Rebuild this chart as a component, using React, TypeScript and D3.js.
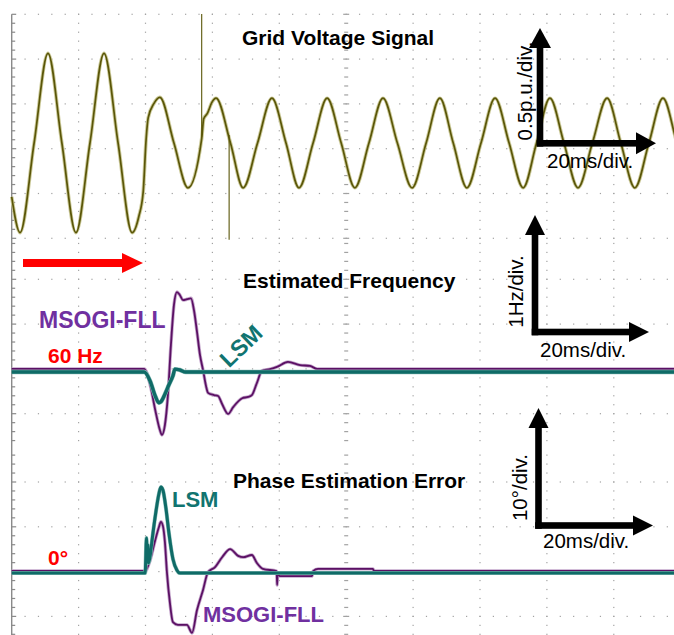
import React from 'react';
import * as d3 from 'd3';

const W = 674;
const H = 635;

// ---------- data (time in ms, 20 ms/div) ----------
const timeDomain: [number, number] = [0, 200];

// Grid voltage signal, p.u. (0.5 p.u./div)
const voltageSamples: [number, number][] = [
  [0, -0.6], [2.5, -1.0], [6.7, 0], [10.85, 1.0], [15.0, 0], [19.2, -1.0], [23.4, 0], [27.6, 1.0],
  [31.8, 0], [36.0, -1.0], [38.0, -0.82], [39.3, -0.55], [40.2, 0.05], [40.8, 0.28], [42.5, 0.44],
  [44.3, 0.51], [48.5, 0], [52.7, -0.5], [56.8, 0.05], [57.4, 0.27], [58.5, 0.33], [59.8, 0.45],
  [61.1, 0.5], [65.4, 0], [69.2, -0.5], [73.5, 0], [77.8, 0.5], [82.0, 0], [85.9, -0.5], [90.1, 0],
  [94.3, 0.5], [98.5, 0], [102.6, -0.5], [106.8, 0], [111.0, 0.5], [115.3, 0], [119.7, -0.5],
  [123.9, 0], [128.0, 0.5], [132.0, 0], [136.1, -0.5], [140.3, 0], [144.5, 0.5], [148.7, 0],
  [152.9, -0.5], [156.9, 0], [160.9, 0.5], [165.1, 0], [169.3, -0.5], [173.6, 0], [178.0, 0.5],
  [182.1, 0], [186.3, -0.5], [190.5, 0], [194.7, 0.5], [198.9, 0], [200, -0.12],
];
// scope artefact lines in the voltage panel: [t, vFrom, vTo]
const voltageCursors: [number, number, number][] = [
  [56.8, 1.44, 0.07],
  [65.0, 0.09, -1.08],
];

// Estimated frequency, Hz (1 Hz/div)
const freqMsogi: [number, number][] = [
  [0, 60.025], [39.6, 60.025], [41.4, 59.67], [42.9, 59.11], [44.3, 58.66], [44.9, 58.55], [45.8, 58.77],
  [46.7, 59.44], [47.6, 60.56], [48.5, 61.45], [49.4, 61.74], [50.3, 61.67], [51.2, 61.56], [52.4, 61.58],
  [53.6, 61.6], [54.5, 61.33], [55.4, 60.85], [56.3, 60.33], [57.2, 60.0], [58.1, 59.64], [58.7, 59.49],
  [60.5, 59.44], [61.7, 59.42], [62.9, 59.24], [64.7, 59.02], [66.2, 59.17], [68.9, 59.37], [70.7, 59.4],
  [71.8, 59.44], [73.3, 59.71], [74.8, 59.98], [77.2, 60.02], [79.3, 60.07], [82.6, 60.18], [86.2, 60.11],
  [89.2, 60.09], [91.3, 60.025], [200, 60.025],
];
const freqLsm: [number, number][] = [
  [0, 59.955], [39.6, 59.955], [41.4, 59.75], [42.9, 59.42], [44.0, 59.27], [44.6, 59.29], [45.8, 59.46],
  [47.0, 59.67], [48.2, 59.87], [48.8, 60.02], [50.3, 60.0], [52.0, 59.955], [200, 59.955],
];

// Phase estimation error, degrees (10°/div)
const phaseMsogi: [number, number][] = [
  [0, 0.25], [39.9, 0.25], [41.4, 2.7], [42.9, 7.1], [44.0, 10.0], [44.6, 11.2], [45.2, 10.3], [45.8, 6.7],
  [46.4, 0.0], [47.3, -6.9], [48.2, -11.2], [49.7, -11.8], [52.4, -11.8], [53.9, -13.6], [55.4, -8.5],
  [57.2, -4.0], [58.7, 0.0], [60.8, 1.1], [62.9, 3.3], [65.3, 5.1], [67.7, 3.6], [69.2, 3.3], [71.8, 3.8],
  [73.3, 2.0], [75.1, 0.7], [79.2, 0.2], [79.35, -2.9], [79.5, -0.4], [80.2, -0.9], [89.8, -0.9],
  [90.1, 0.2], [91.6, 0.7], [108.0, 0.7], [108.3, 0.25], [200, 0.25],
];
const phaseLsm: [number, number][] = [
  [0, -0.25], [39.9, -0.25], [40.3, 7.6], [40.5, 2.5], [40.7, 6.0], [40.9, 2.0], [41.4, 3.6], [41.9, 6.7],
  [43.1, 13.4], [44.0, 17.4], [44.6, 19.0], [45.2, 18.3], [46.1, 14.3], [47.0, 8.7], [48.2, 2.9],
  [49.4, 0.4], [50.3, -0.25], [200, -0.25],
];

// texts
const titles = ['Grid Voltage Signal', 'Estimated Frequency', 'Phase Estimation Error'];
const scaleLabelsV = ['0.5p.u./div.', '1Hz/div.', '10°/div.'];
const scaleLabelH = '20ms/div.';

// ---------- layout ----------
const X0 = 11.7;
const DX = 66.9;
const DY = 44.8;
const panels = [
  { top: 14.3, bottom: 240, row0: 14.3 },
  { top: 240, bottom: 448, row0: 279.3 },
  { top: 448, bottom: 635, row0: 482 },
];

const x = d3.scaleLinear().domain(timeDomain).range([X0, X0 + 10 * DX]);
const yV = d3.scaleLinear().domain([-1, 1]).range([143 + 2 * DY, 143 - 2 * DY]);
const yF = d3.scaleLinear().domain([59, 61]).range([370 + DY, 370 - DY]);
const yP = d3.scaleLinear().domain([-10, 10]).range([572 + DY, 572 - DY]);

const FONT = '"Liberation Sans", Arial, Helvetica, sans-serif';

function Grid() {
  const els: React.ReactNode[] = [];
  const col = '#a2a2a2';
  panels.forEach((p, pi) => {
    for (let k = -3; k < 8; k++) {
      const y = p.row0 + k * DY;
      if (y < p.top - 0.5 || y >= p.bottom) continue;
      for (let j = 1; j < 50; j++) {
        const xx = X0 + (j * DX) / 5;
        if (xx > W) break;
        els.push(<rect key={`r${pi}-${k}-${j}`} x={xx - 0.6} y={y - 0.6} width={1.2} height={1.2} fill={col} />);
      }
    }
    for (let m = -30; m < 30; m++) {
      const y = p.row0 + (m * DY) / 5;
      if (y < p.top - 0.5 || y >= p.bottom) continue;
      const major = m % 5 === 0;
      els.push(<rect key={`l${pi}-${m}`} x={X0} y={y - 0.6} width={major ? 4.5 : 3.5} height={1.2} fill="#8a8a8a" />);
      for (let k = 1; k <= 9; k++) {
        const xx = X0 + k * DX;
        if (k === 5) {
          const w = major ? 6 : 4;
          els.push(<rect key={`c${pi}-${m}-${k}`} x={xx - w / 2} y={y - 0.6} width={w} height={1.2} fill={col} />);
        } else {
          els.push(<rect key={`c${pi}-${m}-${k}`} x={xx - 0.6} y={y - 0.6} width={1.2} height={1.2} fill={col} />);
        }
      }
    }
  });
  return (
    <g>
      <line x1={X0} x2={X0} y1={14.3} y2={H} stroke="#8a8a8a" strokeWidth={1.4} />
      {els}
    </g>
  );
}

function ScaleArrow({ cx, cy, tipY, tipX, half, vLabel, hx, hy, vx, vy }: any) {
  const sw = 3.3;
  const hl = 20;
  return (
    <g fill="#000">
      <rect x={cx - sw} y={tipY + hl - 1} width={2 * sw} height={cy + sw - (tipY + hl - 1)} />
      <polygon points={`${cx},${tipY} ${cx - half},${tipY + hl} ${cx + half},${tipY + hl}`} />
      <rect x={cx - sw} y={cy - sw} width={tipX - hl + 1 - (cx - sw)} height={2 * sw} />
      <polygon points={`${tipX},${cy} ${tipX - hl},${cy - half} ${tipX - hl},${cy + half}`} />
      <text x={hx} y={hy} fontFamily={FONT} fontSize={20.5}>{scaleLabelH}</text>
      <text transform={`translate(${vx},${vy}) rotate(-90)`} textAnchor="middle" fontFamily={FONT} fontSize={20.5}>
        {vLabel}
      </text>
    </g>
  );
}

export default function App() {
  const lineV = d3.line<[number, number]>().x((d) => x(d[0])).y((d) => yV(d[1])).curve(d3.curveMonotoneX);
  const lineF = d3.line<[number, number]>().x((d) => x(d[0])).y((d) => yF(d[1])).curve(d3.curveMonotoneX);
  const lineP = d3.line<[number, number]>().x((d) => x(d[0])).y((d) => yP(d[1])).curve(d3.curveMonotoneX);

  const olive = '#5a5608';
  const oliveHalo = '#cdcb9c';
  const purple = '#5b1064';
  const purpleHalo = '#c4a6cb';
  const teal = '#0f6b67';
  const tealHalo = '#8fc0bb';
  const purpleText = '#7030a0';
  const tealText = '#117470';

  return (
    <svg
      width={W}
      height={H}
      viewBox={`0 0 ${W} ${H}`}
      style={{ position: 'absolute', left: 0, top: 0, background: '#fff' }}
    >
      <rect x={0} y={0} width={W} height={H} fill="#fff" />
      <Grid />

      {/* voltage panel */}
      <path d={lineV(voltageSamples) || ''} fill="none" stroke={oliveHalo} strokeWidth={3.6} strokeLinejoin="round" />
      <path d={lineV(voltageSamples) || ''} fill="none" stroke={olive} strokeWidth={1.7} strokeLinejoin="round" />
      {voltageCursors.map((c, i) => (
        <line key={i} x1={x(c[0])} x2={x(c[0])} y1={yV(c[1])} y2={yV(c[2])} stroke={olive} strokeWidth={1.1} />
      ))}

      {/* frequency panel */}
      <path d={lineF(freqMsogi) || ''} fill="none" stroke={purpleHalo} strokeWidth={3.4} strokeLinejoin="round" />
      <path d={lineF(freqMsogi) || ''} fill="none" stroke={purple} strokeWidth={1.8} strokeLinejoin="round" />
      <path d={lineF(freqLsm) || ''} fill="none" stroke={tealHalo} strokeWidth={4.4} strokeLinejoin="round" />
      <path d={lineF(freqLsm) || ''} fill="none" stroke={teal} strokeWidth={3.4} strokeLinejoin="round" />

      {/* phase panel */}
      <path d={lineP(phaseMsogi) || ''} fill="none" stroke={purpleHalo} strokeWidth={3.4} strokeLinejoin="round" />
      <path d={lineP(phaseMsogi) || ''} fill="none" stroke={purple} strokeWidth={1.8} strokeLinejoin="round" />
      <path d={lineP(phaseLsm) || ''} fill="none" stroke={tealHalo} strokeWidth={4.0} strokeLinejoin="round" />
      <path d={lineP(phaseLsm) || ''} fill="none" stroke={teal} strokeWidth={3.0} strokeLinejoin="round" />

      {/* titles */}
      <g fontFamily={FONT} fontWeight="bold" fontSize={21} fill="#000">
        <text x={242} y={45}>{titles[0]}</text>
        <text x={243} y={288}>{titles[1]}</text>
        <text x={233} y={488}>{titles[2]}</text>
      </g>

      {/* red arrow */}
      <rect x={23} y={259} width={100} height={8} fill="#ff0000" />
      <polygon points="143,263 122,253 122,273" fill="#ff0000" />

      {/* series labels */}
      <g fontFamily={FONT} fontWeight="bold">
        <text x={39} y={328} fontSize={23} fill={purpleText}>MSOGI-FLL</text>
        <text x={48} y={363} fontSize={21} fill="#ff0000">60 Hz</text>
        <text
          transform="translate(241,346) rotate(-44)"
          textAnchor="middle"
          dominantBaseline="central"
          fontSize={23}
          fill={tealText}
        >
          LSM
        </text>
        <text x={48} y={565} fontSize={21} fill="#ff0000">0°</text>
        <text x={172} y={507} fontSize={22} fill={tealText}>LSM</text>
        <text x={203} y={622} fontSize={22} fill={purpleText}>MSOGI-FLL</text>
      </g>

      {/* scale arrows */}
      <ScaleArrow cx={540} cy={143.3} tipY={28} tipX={656} half={11} vLabel={scaleLabelsV[0]} hx={547} hy={168} vx={532} vy={91} />
      <ScaleArrow cx={535} cy={332} tipY={215} tipX={649} half={10} vLabel={scaleLabelsV[1]} hx={540} hy={357} vx={523} vy={291.5} />
      <ScaleArrow cx={538.5} cy={525.5} tipY={408} tipX={653} half={10} vLabel={scaleLabelsV[2]} hx={543} hy={548} vx={527} vy={487.5} />
    </svg>
  );
}
